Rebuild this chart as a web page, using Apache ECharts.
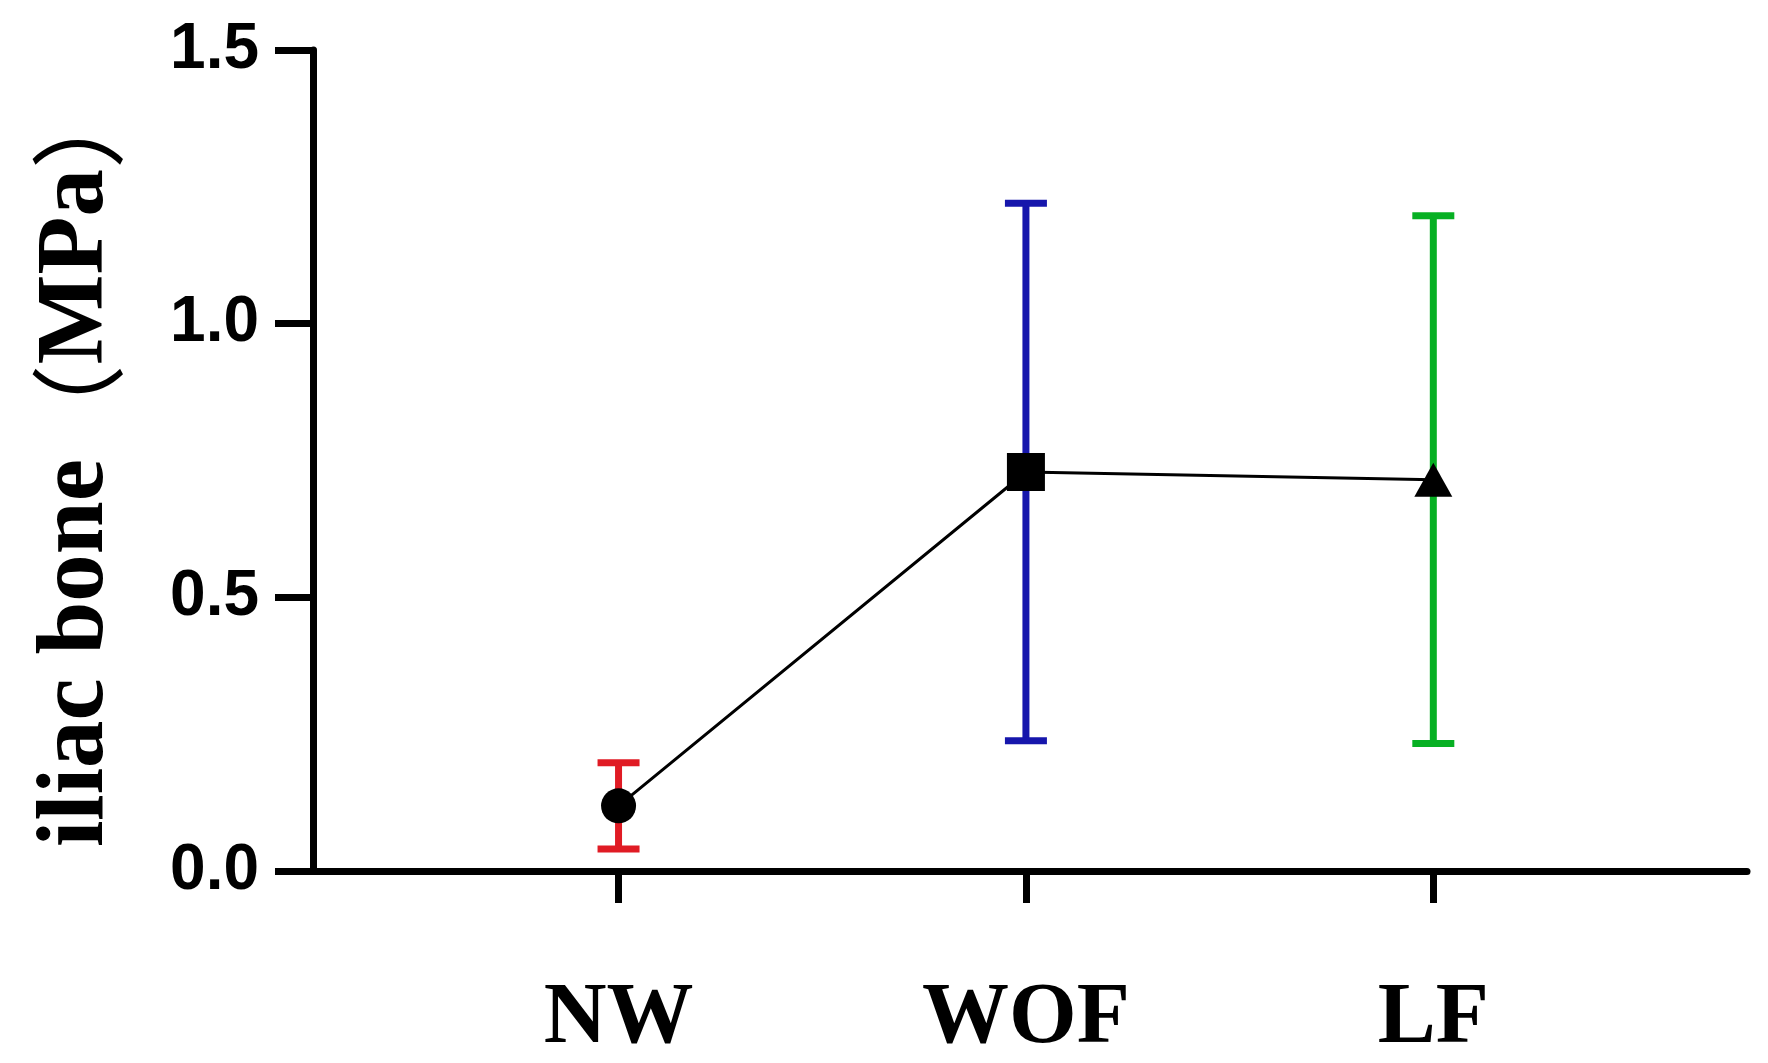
<!DOCTYPE html>
<html>
<head>
<meta charset="utf-8">
<title>iliac bone</title>
<script src="https://cdn.jsdelivr.net/npm/echarts@6/dist/echarts.min.js"></script>
<style>
html, body { margin: 0; padding: 0; background: #fff; }
#chart { width: 1768px; height: 1063px; }
</style>
</head>
<body>
<div id="chart"></div>
<script>
// groups along the x axis
const categories = ['NW', 'WOF', 'LF']
// mean stress of the iliac bone (MPa)
const means = [0.119, 0.729, 0.715]
// half length of each error bar (MPa)
const errors = [0.079, 0.491, 0.482]

// look of each group
const barColors = ['#e01b24', '#1616ac', '#07b023']
const markers = ['circle', 'rect', 'triangle']
const markerSizes = [35, 38, [38, 34]]

const errorData = means.map((m, i) => [i, m - errors[i], m + errors[i]])
const lineData = means.map((m, i) => ({
  value: [i, m],
  symbol: markers[i],
  symbolSize: markerSizes[i]
}))

var myChart = echarts.init(document.getElementById('chart'))
myChart.setOption({
  animation: false,
  backgroundColor: '#fff',
  grid: {
    left: 313,
    right: 21,
    top: 50,
    bottom: 192,
    containLabel: false,
    outerBoundsMode: 'none'
  },
  xAxis: {
    type: 'value',
    min: -0.75,
    max: 2.77,
    splitLine: { show: false },
    axisLine: { show: true, onZero: false, lineStyle: { color: '#000', width: 7 } },
    axisTick: {
      show: true,
      length: 32,
      customValues: [0, 1, 2],
      lineStyle: { color: '#000', width: 7 }
    },
    axisLabel: {
      customValues: [0, 1, 2],
      margin: 105,
      color: '#000',
      fontFamily: 'Liberation Serif',
      fontWeight: 'bold',
      fontSize: 87,
      formatter: v => categories[v] || ''
    }
  },
  yAxis: {
    type: 'value',
    min: 0,
    max: 1.5,
    interval: 0.5,
    splitLine: { show: false },
    axisLine: { show: true, onZero: false, lineStyle: { color: '#000', width: 7 } },
    axisTick: { show: true, length: 38, lineStyle: { color: '#000', width: 7 } },
    axisLabel: {
      margin: 54,
      color: '#000',
      fontFamily: 'Liberation Sans',
      fontWeight: 'bold',
      fontSize: 64,
      formatter: v => v.toFixed(1)
    },
    name: '{t|iliac bone}{p|（}{t|MPa}{p|）}',
    nameLocation: 'middle',
    nameRotate: 90,
    nameGap: 188,
    nameTextStyle: {
      color: '#000',
      rich: {
        t: { fontFamily: 'Liberation Serif', fontWeight: 'bold', fontSize: 95, lineHeight: 95, color: '#000' },
        p: { fontFamily: 'Noto Sans CJK SC', fontWeight: 'normal', fontSize: 95, lineHeight: 95, color: '#000' }
      }
    }
  },
  series: [
    {
      // error bars
      type: 'custom',
      z: 2,
      data: errorData,
      encode: { x: 0, y: [1, 2] },
      renderItem: function (params, api) {
        const x = api.value(0)
        const top = api.coord([x, api.value(2)])
        const bottom = api.coord([x, api.value(1)])
        const half = 21
        const style = { stroke: barColors[params.dataIndex], lineWidth: 7 }
        return {
          type: 'group',
          children: [
            { type: 'line', shape: { x1: top[0], y1: top[1], x2: bottom[0], y2: bottom[1] }, style: style },
            { type: 'line', shape: { x1: top[0] - half, y1: top[1], x2: top[0] + half, y2: top[1] }, style: style },
            { type: 'line', shape: { x1: bottom[0] - half, y1: bottom[1], x2: bottom[0] + half, y2: bottom[1] }, style: style }
          ]
        }
      }
    },
    {
      // means
      type: 'line',
      z: 5,
      data: lineData,
      lineStyle: { color: '#000', width: 3 },
      itemStyle: { color: '#000', borderWidth: 0 }
    }
  ]
})
</script>
</body>
</html>
